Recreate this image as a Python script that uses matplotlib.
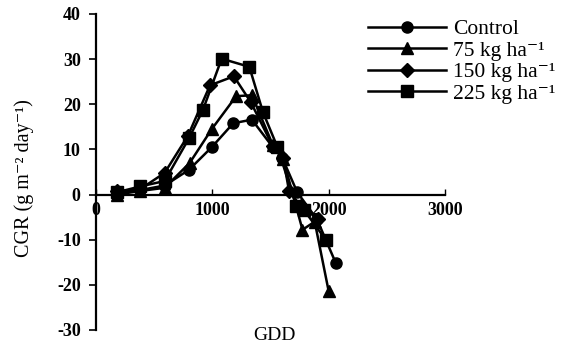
import matplotlib
matplotlib.use("Agg")
import matplotlib.pyplot as plt

gdd_control = [180, 380, 590, 800, 995, 1180, 1340, 1520, 1600, 1730, 1900, 2060]
cgr_control = [0.3, 1.0, 2.0, 5.5, 10.5, 15.8, 16.6, 10.5, 8.2, 0.5, -5.5, -15.1]

gdd_75 = [180, 380, 590, 805, 995, 1205, 1340, 1520, 1610, 1775, 1880, 2000]
cgr_75 = [0.0, 0.8, 1.5, 7.0, 14.5, 21.8, 22.0, 11.0, 7.8, -7.8, -6.0, -21.4]

gdd_150 = [180, 380, 590, 790, 980, 1185, 1330, 1520, 1610, 1660, 1760, 1910]
cgr_150 = [0.7, 1.2, 4.8, 13.0, 24.2, 26.2, 20.5, 10.7, 8.0, 0.7, -2.5, -5.5]

gdd_225 = [180, 380, 590, 800, 920, 1080, 1318, 1436, 1560, 1722, 1790, 1975]
cgr_225 = [0.5, 1.8, 3.0, 12.5, 18.8, 30.1, 28.3, 18.2, 10.5, -2.6, -3.5, -10.0]

labels = ["Control", "75 kg ha\u207b\u00b9", "150 kg ha\u207b\u00b9", "225 kg ha\u207b\u00b9"]
markers = ["o", "^", "D", "s"]
msizes = [8, 9, 7, 8.5]

plt.rcParams['font.family'] = ['Liberation Serif', 'DejaVu Serif']
plt.rcParams['axes.unicode_minus'] = False

fig = plt.figure(figsize=(5.65, 3.5), dpi=100)
W, H = 565, 350
ax = fig.add_axes([96 / W, 1 - 330 / H, (445 - 96) / W, (330 - 14) / H])

series = [(gdd_control, cgr_control), (gdd_75, cgr_75), (gdd_150, cgr_150), (gdd_225, cgr_225)]
handles = []
for (xs, ys), lab, m, ms in zip(series, labels, markers, msizes):
    h, = ax.plot(xs, ys, color='black', lw=1.8, marker=m, markersize=ms,
                 markerfacecolor='black', markeredgecolor='black', label=lab)
    handles.append(h)

ax.set_xlim(0, 3000)
ax.set_ylim(-30, 40)
ax.set_xticks([0, 1000, 2000, 3000])
ax.set_yticks(range(-30, 41, 10))
ax.spines['top'].set_visible(False)
ax.spines['right'].set_visible(False)
ax.spines['bottom'].set_position(('data', 0))
ax.spines['bottom'].set_linewidth(1.6)
ax.spines['left'].set_linewidth(1.6)
ax.tick_params(axis='y', labelsize=13, width=1.2, length=5, direction='out', pad=6)
ax.tick_params(axis='x', labelsize=13, width=1.0, length=4, direction='in', pad=5)
for t in ax.get_xticklabels() + ax.get_yticklabels():
    t.set_fontweight('bold')

fig.text(274 / W, 1 - 336 / H, "GDD", ha='center', va='center', fontsize=14)
fig.text(24 / W, 1 - 178 / H, "CGR (g m\u207b\u00b2 day\u207b\u00b9)", rotation=90,
         ha='center', va='center', fontsize=14.5)

leg = fig.legend(handles=handles, loc='upper left', bbox_to_anchor=(368 / W, 1 - 19 / H),
                 frameon=False, fontsize=15.5, handlelength=3.6, handletextpad=0.35,
                 labelspacing=0.07, borderaxespad=0, borderpad=0)

fig.savefig("out.png", dpi=100)
